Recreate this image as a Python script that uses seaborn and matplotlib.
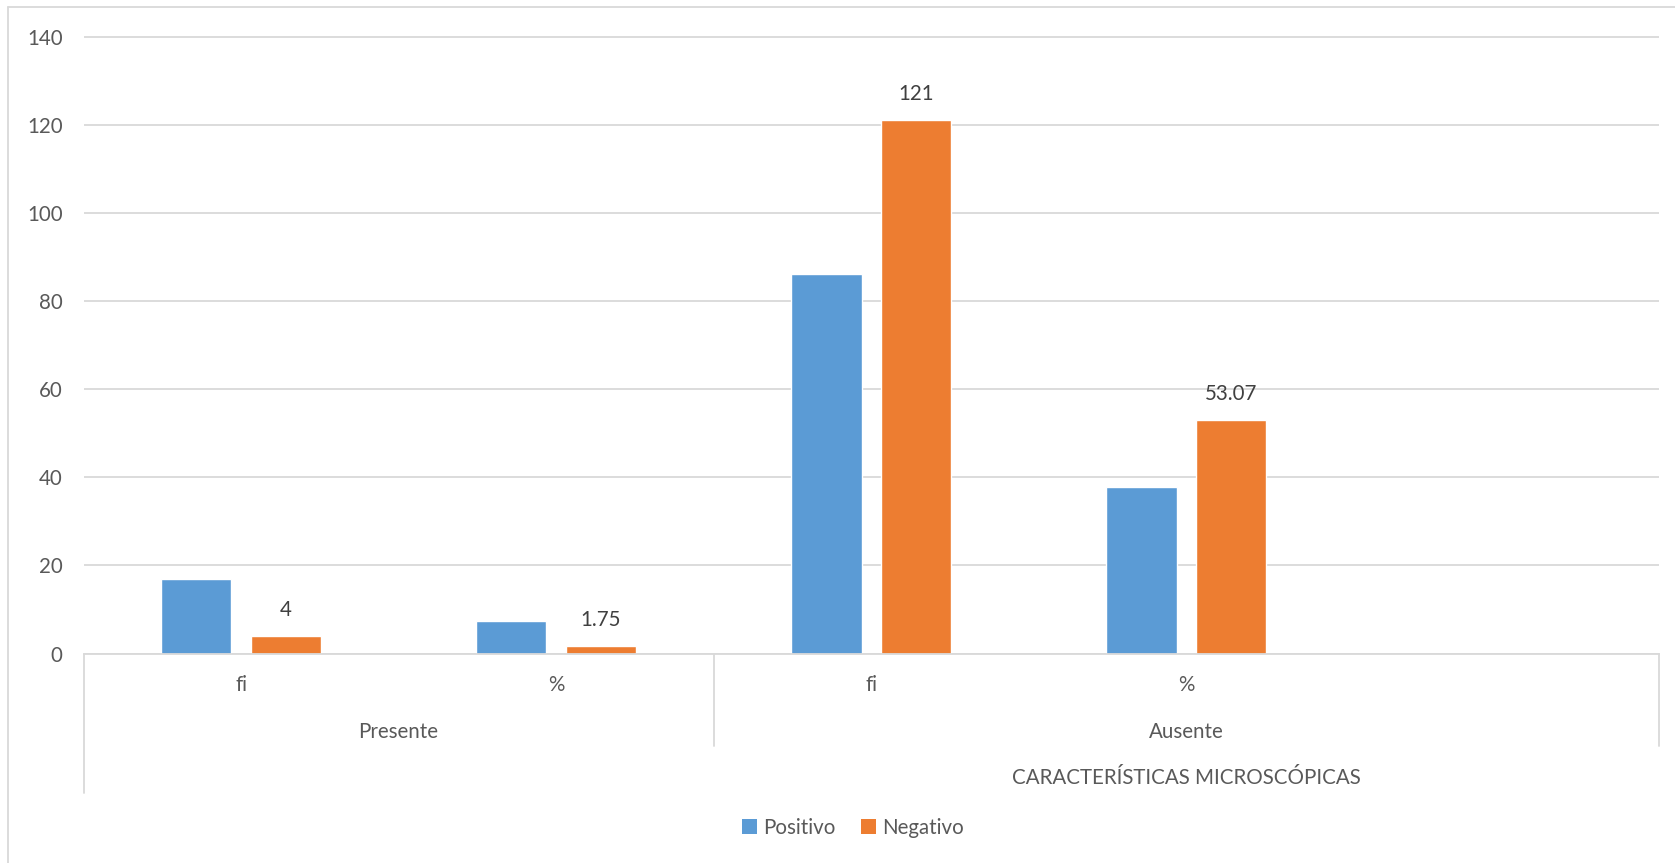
import matplotlib
matplotlib.use("Agg")
import matplotlib.pyplot as plt
import matplotlib.transforms as mtransforms
from matplotlib.patches import Patch
from matplotlib.lines import Line2D
import pandas as pd
import seaborn as sns

# --- data -------------------------------------------------------------
grupos = ["Presente", "Presente", "Ausente", "Ausente"]
medidas = ["fi", "%", "fi", "%"]
positivo = [17, 7.46, 86, 37.72]
negativo = [4, 1.75, 121, 53.07]
negativo_etiquetas = ["4", "1.75", "121", "53.07"]
series = ["Positivo", "Negativo"]
colores = ["#5B9BD5", "#ED7D31"]
titulo_eje = "CARACTERÍSTICAS MICROSCÓPICAS"
yticks = [0, 20, 40, 60, 80, 100, 120, 140]

claves = [f"{g} {m}" for g, m in zip(grupos, medidas)]
df = pd.DataFrame({
    "clave": claves * 2,
    "serie": ["Positivo"] * 4 + ["Negativo"] * 4,
    "valor": positivo + negativo,
})

# --- figure -------------------------------------------------------------
sns.set_theme(style="white")
plt.rcParams["font.family"] = ["Lato", "DejaVu Sans"]
TXT = "#595959"
LBL = "#404040"
GRID = "#D9D9D9"

W, H = 1675, 863
fig = plt.figure(figsize=(W / 100, H / 100), dpi=100)
left, right, top, bottom = 83.5, 1659, 36.5, 653.5
ax = fig.add_axes([left / W, 1 - bottom / H, (right - left) / W, (bottom - top) / H])

sns.barplot(data=df, x="clave", y="valor", hue="serie", order=claves,
            hue_order=series, palette=colores, saturation=1,
            width=0.57, gap=0.215, ax=ax, legend=False)

ax.set_xlim(-0.5, 4.5)
ax.set_ylim(0, 140)
ax.set_yticks(yticks)
ax.set_yticklabels([str(t) for t in yticks], fontsize=14.8, color=TXT)
ax.tick_params(axis="y", length=0, pad=15)
ax.set_xticks([])
ax.set_xlabel("")
ax.set_ylabel("")
ax.grid(axis="y", color=GRID, linewidth=1.3)
ax.set_axisbelow(True)
for s in ["top", "right", "left"]:
    ax.spines[s].set_visible(False)
ax.spines["bottom"].set_color(GRID)
ax.spines["bottom"].set_linewidth(1.3)

# value labels on the Negativo series
neg_bars = ax.containers[1]
ax.bar_label(neg_bars, labels=negativo_etiquetas, padding=11.5,
             fontsize=14.8, color=LBL)

# --- multi-level category axis ------------------------------------------
def fy(px):
    return 1 - px / H

trans = mtransforms.blended_transform_factory(ax.transData, fig.transFigure)
for xv, depth in [(-0.5, 793), (1.5, 746), (4.5, 746)]:
    ax.add_line(Line2D([xv, xv], [fy(bottom), fy(depth)], transform=trans,
                       color=GRID, linewidth=1.3, clip_on=False))

for i, m in enumerate(medidas):
    ax.text(i, fy(685), m, transform=trans, ha="center", va="center",
            fontsize=14.8, color=TXT)

ax.text(0.5, fy(731.5), "Presente", transform=trans, ha="center", va="center",
        fontsize=14.8, color=TXT)
ax.text(3.0, fy(731.5), "Ausente", transform=trans, ha="center", va="center",
        fontsize=14.8, color=TXT)
ax.text(3.0, fy(777.5), titulo_eje, transform=trans, ha="center", va="center",
        fontsize=14.8, color=TXT)

# --- legend -------------------------------------------------------------
handles = [Patch(facecolor=c, edgecolor="none", label=s) for s, c in zip(series, colores)]
fig.legend(handles=handles, loc="center", bbox_to_anchor=(853 / W, fy(828)),
           ncol=2, frameon=False, fontsize=14.8, labelcolor=TXT,
           handlelength=0.75, handleheight=0.75, handletextpad=0.3,
           columnspacing=1.2)

# chart frame (top and left edges)
fig.add_artist(Line2D([8 / W, 1], [fy(7), fy(7)], transform=fig.transFigure,
                      color=GRID, linewidth=1.3))
fig.add_artist(Line2D([8 / W, 8 / W], [0, fy(7)], transform=fig.transFigure,
                      color=GRID, linewidth=1.3))

fig.savefig("out.png", dpi=100, facecolor="white")
